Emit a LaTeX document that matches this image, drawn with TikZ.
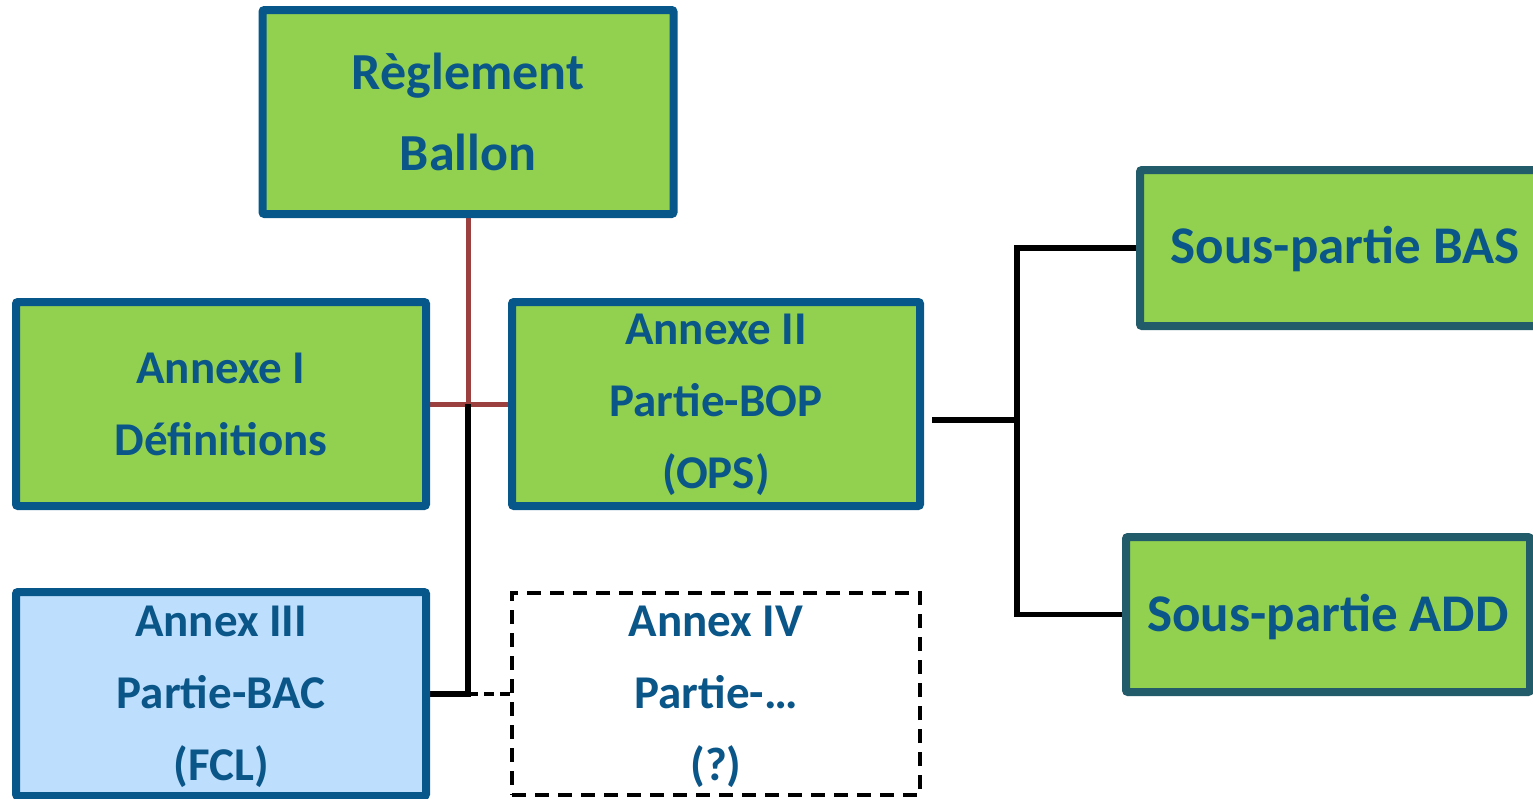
\documentclass[tikz,border=0pt]{standalone}
\usepackage{fontspec}
\setmainfont{Carlito}
\usetikzlibrary{backgrounds}
\definecolor{gfill}{HTML}{92D050}
\definecolor{bblue}{HTML}{07578A}
\definecolor{tblue}{HTML}{0B5688}
\definecolor{teal}{HTML}{225B6A}
\definecolor{lblue}{HTML}{BDDEFD}
\definecolor{rline}{HTML}{9B3F3F}
\begin{document}
\begin{tikzpicture}[x=1pt,y=-1pt,
  boxbase/.style={rectangle, inner sep=0pt, align=center, text=tblue,
    font=\bfseries\fontsize{47}{72}\selectfont},
  gbox/.style={boxbase, draw=bblue, line width=8pt, fill=gfill, rounded corners=2pt},
  bbox/.style={boxbase, draw=bblue, line width=8pt, fill=lblue, rounded corners=2pt},
  dbox/.style={boxbase, draw=black, line width=3.5pt, fill=white, dash pattern=on 14pt off 9pt},
  tbox/.style={rectangle, inner sep=0pt, draw=teal, line width=8pt, fill=gfill, rounded corners=2pt},
  ttext/.style={inner sep=0pt, text=tblue, font=\bfseries\fontsize{53}{64}\selectfont},
  redc/.style={draw=rline, line width=5pt},
  blkc/.style={draw=black, line width=5.5pt, line join=miter},
  dashc/.style={draw=black, line width=4pt, dash pattern=on 10pt off 6pt}]
\useasboundingbox (0,0) rectangle (1533,798);

\node[gbox, minimum width=411pt, minimum height=204pt,
  font=\bfseries\fontsize{52}{81}\selectfont] (reg) at (468,112) {Règlement\\Ballon};
\node[gbox, minimum width=410pt, minimum height=204pt] (a1) at (221,404) {Annexe I\\Définitions};
\node[gbox, minimum width=408pt, minimum height=204pt] (a2) at (716,404) {\rule{0pt}{33pt}Annexe II\\Partie-BOP\\(OPS)};
\node[bbox, minimum width=410pt, minimum height=204pt] (a3) at (221,694) {\rule{0pt}{36pt}Annex III\\Partie-BAC\\(FCL)};
\node[dbox, minimum width=408pt, minimum height=202pt] (a4) at (716,694) {\rule{0pt}{37pt}Annex IV\\Partie-…\\(?)};
\node[tbox, minimum width=408pt, minimum height=156pt] (bas) at (1344,248) {};
\node[ttext] (bast) at (1345,249) {Sous-partie BAS};
\node[tbox, minimum width=404pt, minimum height=155pt] (add) at (1328,614.5) {};
\node[ttext] (addt) at (1328,617) {Sous-partie ADD};

\coordinate (j1) at (468,404);
\coordinate (j2) at (468,694);
\coordinate (a2out) at ([shift={(8,16)}]a2.east);
\coordinate (jr) at (1017,420);

\begin{scope}[on background layer]
\draw[redc] (reg.south) -- (j1);
\draw[redc] (a1.east) -- (a2.west);
\draw[blkc] (j1) -- (j2) -- (a3.east);
\draw[dashc] (j2) -- (a4.west);
\draw[blkc] (a2out) -- (jr);
\draw[blkc] (bas.west) -| (jr) |- (add.west);
\end{scope}
\end{tikzpicture}
\end{document}
